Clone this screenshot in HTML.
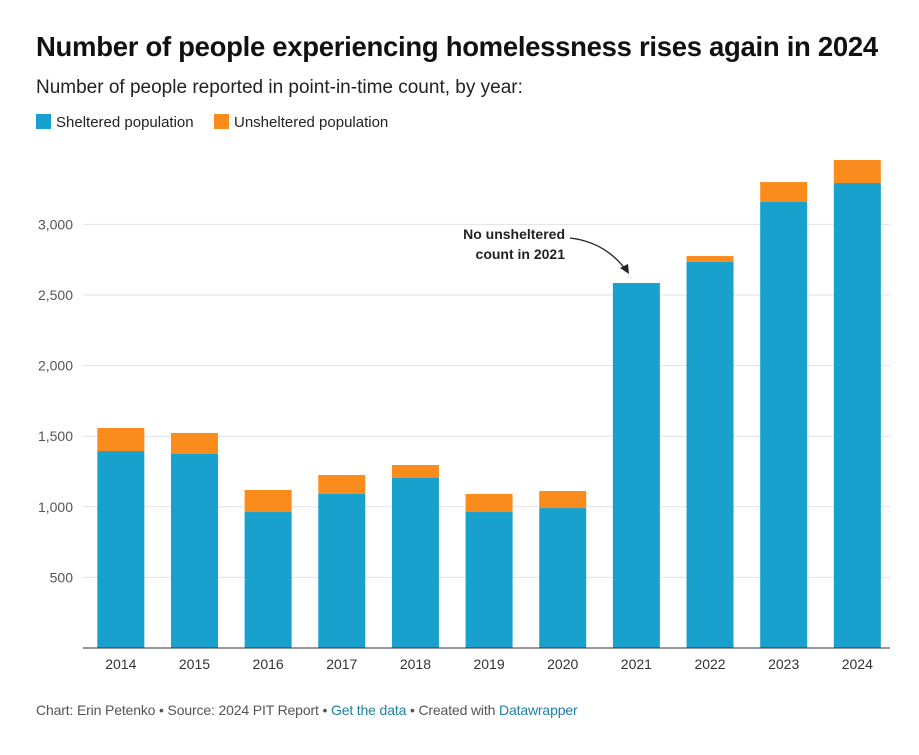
<!DOCTYPE html>
<html><head><meta charset="utf-8"><style>
body{margin:0;background:#fff;font-family:"Liberation Sans",Arial,sans-serif;}
#w{position:relative;width:919px;height:755px;overflow:hidden}
.t{position:absolute;white-space:nowrap}
</style></head><body><div id="w">
<div class="t" style="left:36px;top:31px;font-size:27.5px;font-weight:bold;color:#111;letter-spacing:-0.3px">Number of people experiencing homelessness rises again in 2024</div>
<div class="t" style="left:36px;top:77px;font-size:19px;color:#222">Number of people reported in point-in-time count, by year:</div>
<div class="t" style="left:36px;top:114px;font-size:15px;color:#222"><span style="display:inline-block;width:15px;height:15px;background:#18a1cd;vertical-align:-2px;margin-right:5px"></span>Sheltered population</div>
<div class="t" style="left:214px;top:114px;font-size:15px;color:#222"><span style="display:inline-block;width:15px;height:15px;background:#fa8c1e;vertical-align:-2px;margin-right:5px"></span>Unsheltered population</div>
<svg id="c" width="919" height="755" style="position:absolute;left:0;top:0"></svg>
<div class="t" style="left:36px;top:702px;font-size:14px;color:#555;letter-spacing:-0.15px">Chart: Erin Petenko • Source: 2024 PIT Report • <span style="color:#1d81a2">Get the data</span> • Created with <span style="color:#1d81a2">Datawrapper</span></div>
</div>
<script>
const years=["2014","2015","2016","2017","2018","2019","2020","2021","2022","2023","2024"];
const sheltered=[1395,1374,963,1091,1204,963,991,2585,2734,3159,3293];
const unsheltered=[163,149,156,134,92,128,121,0,42,141,163];
const yTicks=[500,1000,1500,2000,2500,3000];
const svg=document.getElementById('c');const NS='http://www.w3.org/2000/svg';
const y0=648,k=0.1412;const y=v=>y0-v*k;
const x0=83,step=73.65,bw=47;const xc=i=>x0+step*(i+0.5)+1;
function el(t,a){const e=document.createElementNS(NS,t);for(const n in a)e.setAttribute(n,a[n]);svg.appendChild(e);return e;}
yTicks.forEach(v=>{const g=el('line',{x1:83,x2:890,y1:y(v),y2:y(v),stroke:'#e2e2e2'});


const t=el('text',{x:73,y:y(v)+5,'text-anchor':'end','font-size':14,fill:'#555'});t.textContent=v.toLocaleString('en-US');

});
years.forEach((yr,i)=>{
const s=el('rect',{x:xc(i)-bw/2,y:y(sheltered[i]),width:bw,height:sheltered[i]*k,fill:'#18a1cd'});


if(unsheltered[i]>0){const u=el('rect',{x:xc(i)-bw/2,y:y(sheltered[i]+unsheltered[i]),width:bw,height:unsheltered[i]*k,fill:'#fa8c1e'});

}
const t=el('text',{x:xc(i),y:669,'text-anchor':'middle','font-size':14,fill:'#333'});t.textContent=yr;

});
const ax=el('line',{x1:83,x2:890,y1:y0,y2:y0,stroke:'#333'});


[['No unsheltered',239],['count in 2021',259]].forEach(([s,yy])=>{const t=el('text',{x:565,y:yy,'text-anchor':'end','font-size':14,'font-weight':'bold',fill:'#222'});t.textContent=s;

});
const a=el('path',{d:'M570,238 Q605,242 626,270',fill:'none',stroke:'#222','stroke-width':1.3});


const h=el('path',{d:'M629,274 L620,268 L628,264 Z',fill:'#222'});


</script></body></html>
